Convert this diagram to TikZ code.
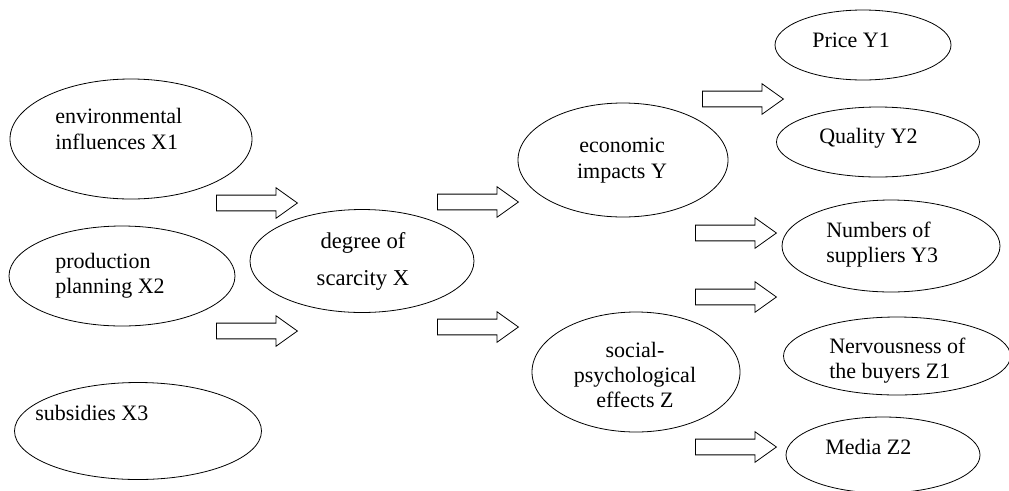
\documentclass[tikz,border=0pt]{standalone}
\usepackage{fontspec}
\setmainfont{Liberation Serif}
\usetikzlibrary{shapes.geometric,shapes.arrows}

\begin{document}
\begin{tikzpicture}[x=0.75pt, y=-0.75pt,
    bubble/.style={draw, ellipse, inner sep=0pt, line width=0.6pt},
    txt/.style={inner sep=0pt, font=\fontsize{16.5}{19}\selectfont},
    fatarrow/.style={draw, single arrow, line width=0.6pt, inner sep=5.6pt,
        minimum height=60.75pt,
        single arrow head extend=5.6pt, single arrow tip angle=71, anchor=tail}]
    \useasboundingbox (0,0) rectangle (1009,490);

    % Causes
    \node[bubble, minimum width=181.5pt, minimum height=90pt] (env) at (131,139) {};
    \node[bubble, minimum width=169.5pt, minimum height=75pt] (prod) at (122,276) {};
    \node[bubble, minimum width=185.25pt, minimum height=72.75pt] (subs) at (138,431) {};
    \node[txt, anchor=west, align=left] (t-env) at (55,129) {environmental\\influences X1};
    \node[txt, anchor=west, align=left] (t-prod) at (55,276) {production\\planning X2};
    \node[txt, anchor=west] (t-subs) at (35,413) {subsidies X3};

    % Scarcity
    \node[bubble, minimum width=168pt, minimum height=77.25pt] (deg) at (362,261) {};
    \node[txt, align=center, font=\fontsize{17}{27.75}\selectfont] (t-deg) at (363,261.5) {degree of\\scarcity X};

    % Impacts
    \node[bubble, minimum width=157.5pt, minimum height=85.5pt] (econ) at (623,160) {};
    \node[bubble, minimum width=156pt, minimum height=90pt] (soc) at (636,372) {};
    \node[txt, align=center] (t-econ) at (622,160.5) {economic\\impacts Y};
    \node[txt, align=center] (t-soc) at (635,375) {social-\\psychological\\effects Z};

    % Effects
    \node[bubble, minimum width=132pt, minimum height=52.5pt] (price) at (863,45) {};
    \node[bubble, minimum width=152.25pt, minimum height=52.5pt] (qual) at (878,142) {};
    \node[bubble, minimum width=163.5pt, minimum height=69pt] (supp) at (891,246) {};
    \node[bubble, minimum width=170.25pt, minimum height=58.5pt] (nerv) at (897,356) {};
    \node[bubble, minimum width=145.5pt, minimum height=57pt] (media) at (883,455) {};
    \node[txt, anchor=west] (t-price) at (812,40) {Price Y1};
    \node[txt, anchor=west] (t-qual) at (819,138) {Quality Y2};
    \node[txt, anchor=west, align=left] (t-supp) at (826,244.5) {Numbers of\\suppliers Y3};
    \node[txt, anchor=west, align=left] (t-nerv) at (829,360.5) {Nervousness of\\the buyers Z1};
    \node[txt, anchor=west] (t-media) at (825,447) {Media Z2};

    % Arrows
    \node[fatarrow] (a1) at (216,203) {};
    \node[fatarrow] (a2) at (216,331) {};
    \node[fatarrow] (a3) at (437,202) {};
    \node[fatarrow] (a4) at (437,327) {};
    \node[fatarrow] (a5) at (702,99) {};
    \node[fatarrow] (a6) at (695,233) {};
    \node[fatarrow] (a7) at (695,297) {};
    \node[fatarrow] (a8) at (695,447) {};
\end{tikzpicture}
\end{document}
